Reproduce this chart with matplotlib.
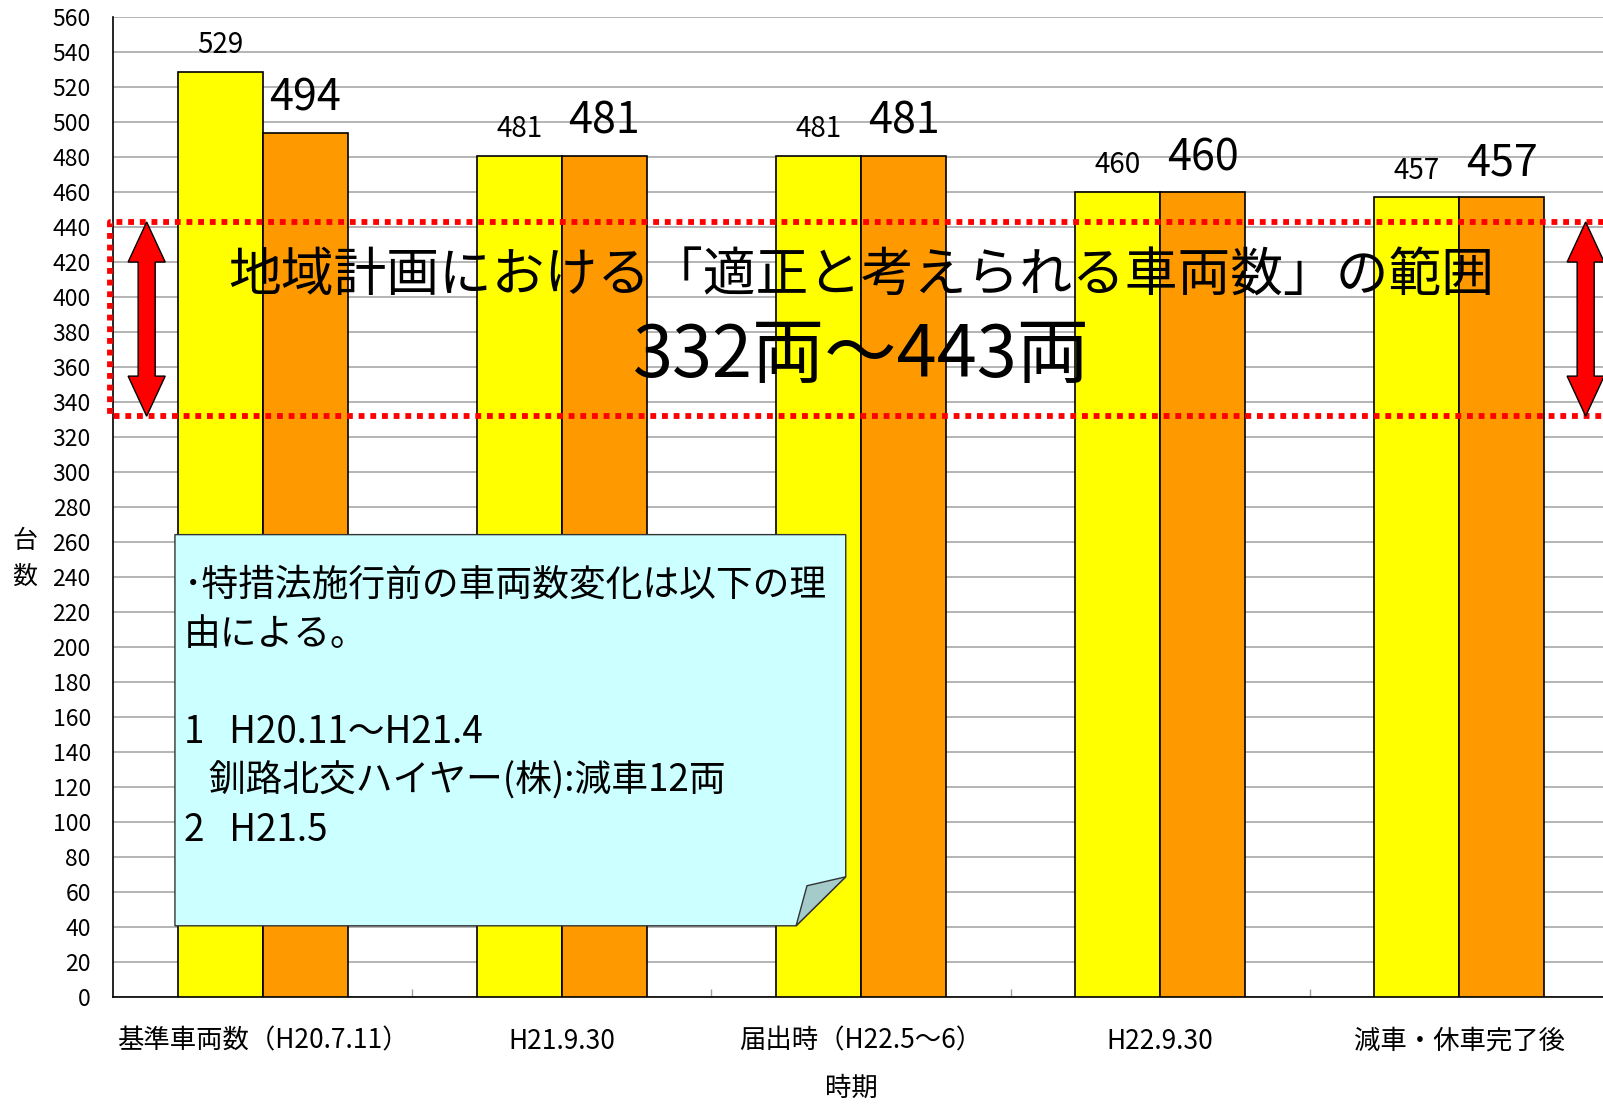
import matplotlib
matplotlib.use("Agg")
import matplotlib.pyplot as plt
import matplotlib.transforms as mtransforms
from matplotlib.patches import Polygon
import numpy as np

plt.rcParams['font.family'] = ['Noto Sans CJK JP', 'DejaVu Sans']

# data
categories = ["基準車両数（H20.7.11）", "H21.9.30", "届出時（H22.5～6）", "H22.9.30", "減車・休車完了後"]
yellow_vals = [529, 481, 481, 460, 457]
orange_vals = [494, 481, 481, 460, 457]
range_lo = 332
range_hi = 443
range_title = "地域計画における「適正と考えられる車両数」の範囲"
range_text = "332両～443両"
note_lines = [
    "･特措法施行前の車両数変化は以下の理",
    "由による。",
    "",
    "1   H20.11～H21.4",
    "   釧路北交ハイヤー(株):減車12両",
    "2   H21.5",
]

W, H = 1603, 1104
fig = plt.figure(figsize=(W / 100, H / 100), dpi=100)
ax = fig.add_axes([113 / W, 1 - 997 / H, 1496 / W, (997 - 17.3) / H])

x = np.arange(len(categories))
bw = 0.284
ax.bar(x - bw / 2, yellow_vals, bw, color="#FFFF00", edgecolor="black", linewidth=1.2, zorder=3)
ax.bar(x + bw / 2, orange_vals, bw, color="#FF9900", edgecolor="black", linewidth=1.2, zorder=3)

for i in range(len(x)):
    ax.annotate(str(yellow_vals[i]), (x[i] - bw / 2, yellow_vals[i]), xytext=(0, 13.5),
                textcoords="offset points", ha="center", va="baseline", fontsize=20, zorder=6)
    ax.annotate(str(orange_vals[i]), (x[i] + bw / 2, orange_vals[i]), xytext=(0, 16),
                textcoords="offset points", ha="center", va="baseline", fontsize=31, zorder=6)

ax.set_xlim(-0.5, len(categories) - 0.5)
ax.set_ylim(0, 560)
ax.set_yticks(np.arange(0, 561, 20))
ax.yaxis.grid(True, color="#a0a0a0", linewidth=1.1, zorder=0)
ax.set_axisbelow(True)
ax.tick_params(axis="y", length=0, pad=16, labelsize=16.5)

ax.set_xticks(x)
ax.set_xticklabels(categories, fontsize=19)
ax.set_xticks(np.arange(0.5, len(categories) - 0.5, 1), minor=True)
ax.tick_params(axis="x", which="major", length=0, pad=22)
ax.tick_params(axis="x", which="minor", direction="in", length=6, color="#a0a0a0", width=1)

for s in ["top", "right"]:
    ax.spines[s].set_visible(False)
ax.spines["left"].set_linewidth(1.2)
ax.spines["bottom"].set_linewidth(1.2)

# dotted range frame
blend = mtransforms.blended_transform_factory(ax.transAxes, ax.transData)
ax.plot([1.05, -0.002, -0.002, 1.05], [range_hi, range_hi, range_lo, range_lo],
        transform=blend, color="#FF0000", linewidth=4.2, linestyle=(0, (1, 1)),
        dash_capstyle="butt", clip_on=False, zorder=5)

# double arrows
def double_arrow(xc, lo, hi):
    hw, sw, hl = 0.0124, 0.0057, 22.9
    pts = [(xc, hi), (xc + hw, hi - hl), (xc + sw, hi - hl), (xc + sw, lo + hl),
           (xc + hw, lo + hl), (xc, lo), (xc - hw, lo + hl), (xc - sw, lo + hl),
           (xc - sw, hi - hl), (xc - hw, hi - hl)]
    ax.add_patch(Polygon(pts, closed=True, transform=blend, facecolor="#FF0000",
                         edgecolor="black", linewidth=1, clip_on=False, zorder=7))

double_arrow(0.0225, range_lo, range_hi)
double_arrow(0.9844, range_lo, range_hi)

ax.text(2, 412, range_title, ha="center", va="center", fontsize=38, zorder=8)
ax.text(2, 366, range_text, ha="center", va="center", fontsize=52, zorder=8)

# note box with folded corner
bx0, bx1, bxf, bxi = 0.0414, 0.4898, 0.4566, 0.4639
by0, by1, byf, byi = 40.7, 264.3, 68.7, 63.6
box = [(bx0, by0), (bx0, by1), (bx1, by1), (bx1, byf), (bxf, by0)]
ax.add_patch(Polygon(box, closed=True, transform=blend, facecolor="#CCFFFF",
                     edgecolor="#333333", linewidth=1, zorder=9))
ax.add_patch(Polygon([(bxf, by0), (bxi, byi), (bx1, byf)], closed=True, transform=blend,
                     facecolor="#A5CACA", edgecolor="#333333", linewidth=1, zorder=9))
note_x = (184 - 113) / 1496
for k, line in enumerate(note_lines):
    yv = (997 - (585 + 49 * k)) / 1.75
    ax.text(note_x, yv, line, transform=blend, ha="left", va="center", fontsize=26.5, zorder=10)

fig.text(851 / W, 1 - 1088 / H, "時期", ha="center", va="center", fontsize=19)
fig.text(24.5 / W, 1 - 559 / H, "台\n数", ha="center", va="center", fontsize=18, linespacing=1.45)

fig.savefig("out.png", dpi=100)
